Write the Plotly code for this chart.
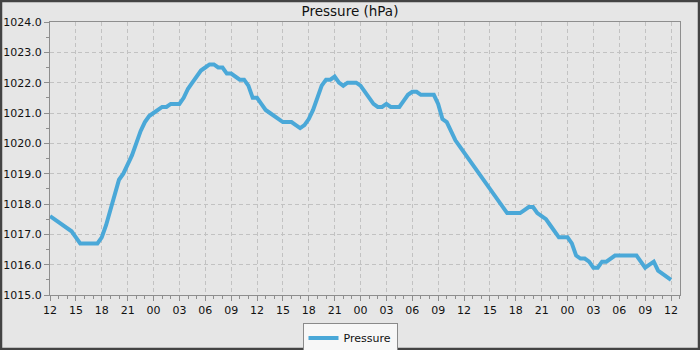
import pandas as pd
import plotly.graph_objects as go

# Half-hourly station pressure readings (hPa), starting at 12:00 on day one
start = pd.Timestamp("2024-03-01 12:00")
step_minutes = 30
pressure = [
    1017.6, 1017.5, 1017.4, 1017.3, 1017.2, 1017.1, 1016.9, 1016.7, 1016.7, 1016.7,
    1016.7, 1016.7, 1016.9, 1017.3, 1017.8, 1018.3, 1018.8, 1019.0, 1019.3, 1019.6,
    1020.0, 1020.4, 1020.7, 1020.9, 1021.0, 1021.1, 1021.2, 1021.2, 1021.3, 1021.3,
    1021.3, 1021.5, 1021.8, 1022.0, 1022.2, 1022.4, 1022.5, 1022.6, 1022.6, 1022.5,
    1022.5, 1022.3, 1022.3, 1022.2, 1022.1, 1022.1, 1021.9, 1021.5, 1021.5, 1021.3,
    1021.1, 1021.0, 1020.9, 1020.8, 1020.7, 1020.7, 1020.7, 1020.6, 1020.5, 1020.6,
    1020.8, 1021.1, 1021.5, 1021.9, 1022.1, 1022.1, 1022.2, 1022.0, 1021.9, 1022.0,
    1022.0, 1022.0, 1021.9, 1021.7, 1021.5, 1021.3, 1021.2, 1021.2, 1021.3, 1021.2,
    1021.2, 1021.2, 1021.4, 1021.6, 1021.7, 1021.7, 1021.6, 1021.6, 1021.6, 1021.6,
    1021.3, 1020.8, 1020.7, 1020.4, 1020.1, 1019.9, 1019.7, 1019.5, 1019.3, 1019.1,
    1018.9, 1018.7, 1018.5, 1018.3, 1018.1, 1017.9, 1017.7, 1017.7, 1017.7, 1017.7,
    1017.8, 1017.9, 1017.9, 1017.7, 1017.6, 1017.5, 1017.3, 1017.1, 1016.9, 1016.9,
    1016.9, 1016.7, 1016.3, 1016.2, 1016.2, 1016.1, 1015.9, 1015.9, 1016.1, 1016.1,
    1016.2, 1016.3, 1016.3, 1016.3, 1016.3, 1016.3, 1016.3, 1016.1, 1015.9, 1016.0,
    1016.1, 1015.8, 1015.7, 1015.6, 1015.5,
]
times = pd.date_range(start, periods=len(pressure), freq=f"{step_minutes}min")

y_ticks = [1015, 1016, 1017, 1018, 1019, 1020, 1021, 1022, 1023, 1024]
y_tick_text = [f"{v:.1f}" for v in y_ticks]

line_color = "#4aa8d8"
bg = "#e6e6e6"
frame = "#8e8e8e"
grid = "#c2c2c2"
font = "DejaVu Sans"
grid_dash = "4px,3px"

fig = go.Figure()
fig.add_trace(go.Scatter(
    x=times, y=pressure, mode="lines", name="Pressure",
    line=dict(color=line_color, width=4, shape="linear"),
))

x_end = start + pd.Timedelta(hours=73.04)

fig.update_layout(
    width=700, height=350,
    margin=dict(l=50, r=20, t=22, b=55, autoexpand=False),
    paper_bgcolor=bg, plot_bgcolor=bg,
    font=dict(family=font, size=11, color="#111111"),
    title=dict(text="Pressure (hPa)", x=0.5, xanchor="center",
               y=1 - 11 / 350, yanchor="middle", yref="container",
               font=dict(family=font, size=13.5, color="#111111")),
    showlegend=True,
    legend=dict(orientation="h", xref="container", yref="container",
                x=0.5, xanchor="center", y=12 / 350, yanchor="middle",
                bgcolor="#f7f7f7", bordercolor="#8a8a8a", borderwidth=1,
                font=dict(family=font, size=11, color="#111111"),
                itemwidth=30, tracegroupgap=0),
    xaxis=dict(
        range=[start, x_end], type="date",
        tick0=start, dtick=3 * 3600 * 1000, tickformat="%H",
        ticks="outside", ticklen=5, tickcolor=frame, tickwidth=1,
        showline=True, linecolor=frame, linewidth=1, mirror=True,
        showgrid=True, gridcolor=grid, griddash=grid_dash, gridwidth=1,
        zeroline=False, automargin=False,
        minor=dict(dtick=3600 * 1000, tick0=start, ticks="outside",
                   ticklen=3, tickcolor=frame, showgrid=False),
        tickfont=dict(family=font, size=11, color="#111111"),
    ),
    yaxis=dict(
        range=[1015, 1024], tickvals=y_ticks, ticktext=y_tick_text,
        ticks="outside", ticklen=5, tickcolor=frame, tickwidth=1,
        showline=True, linecolor=frame, linewidth=1, mirror=True,
        showgrid=True, gridcolor=grid, griddash=grid_dash, gridwidth=1,
        zeroline=False, automargin=False,
        minor=dict(tickvals=[v + 0.5 for v in y_ticks[:-1]], ticks="outside",
                   ticklen=3, tickcolor=frame, showgrid=False),
        tickfont=dict(family=font, size=11, color="#111111"),
    ),
)

# dark outer border around the whole figure
pw, ph = 630, 273
fig.add_shape(type="rect", xref="paper", yref="paper",
              x0=-49 / pw, x1=1 + 19 / pw, y0=-54 / ph, y1=1 + 21 / ph,
              line=dict(color="#444444", width=2.5), fillcolor="rgba(0,0,0,0)",
              layer="above")

fig.write_html("out.html")
